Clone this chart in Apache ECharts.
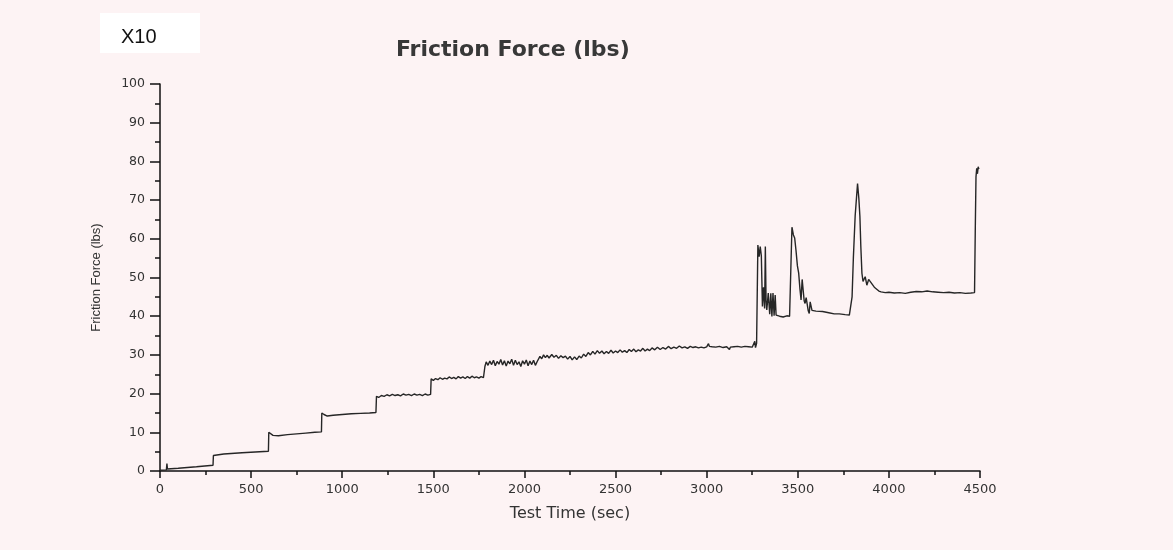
<!DOCTYPE html>
<html>
<head>
<meta charset="utf-8">
<script src="https://cdn.jsdelivr.net/npm/echarts@6/dist/echarts.min.js"></script>
<style>
html,body{margin:0;padding:0;background:#fdf3f4;}
#chart{width:1173px;height:550px;}
</style>
</head>
<body>
<div id="chart"></div>
<script>
// ---- data ----
const chartTitle = 'Friction Force (lbs)';
const xAxisName = 'Test Time (sec)';
const yAxisName = 'Friction Force (lbs)';
const scaleNote = 'X10';

const times = [
  0, 35, 38, 41, 100, 200, 291, 293, 350, 450, 595,
  597, 605, 620, 650, 700, 750, 800, 850, 886,
  888, 900, 918, 950, 1000, 1050, 1100, 1150, 1185,
  1188, 1200, 1215, 1230, 1245, 1260, 1275, 1290, 1305, 1320, 1335, 1350, 1365, 1380, 1395, 1410, 1425, 1440, 1455, 1470, 1485,
  1488, 1500, 1512, 1525, 1537, 1550, 1562, 1575, 1587, 1600, 1612, 1625, 1637, 1650, 1662, 1675, 1687, 1700, 1712, 1725, 1737, 1750, 1762, 1775, 1780,
  1783, 1790, 1800, 1810, 1820, 1830, 1840, 1850, 1860, 1870, 1880, 1890, 1900, 1910, 1920, 1930, 1940, 1950, 1960, 1970, 1980, 1990, 2000, 2010, 2020, 2030, 2040, 2050, 2060, 2070, 2078,
  2085, 2095, 2105, 2115, 2125, 2135, 2150, 2162, 2175, 2187, 2200, 2212, 2225, 2237, 2250, 2262, 2275, 2287, 2300, 2312, 2325, 2337, 2350, 2362, 2375, 2387, 2400,
  2412, 2425, 2437, 2450, 2462, 2475, 2487, 2500, 2512, 2525, 2537, 2550, 2562, 2575, 2587, 2600, 2612, 2625, 2637, 2650, 2662, 2675, 2687, 2700,
  2715, 2730, 2745, 2760, 2775, 2790, 2805, 2820, 2835, 2850, 2865, 2880, 2895, 2910, 2925, 2940, 2955, 2970, 2985, 3000, 3010, 3015, 3030, 3050, 3070, 3090, 3110, 3125, 3130, 3150, 3170, 3190, 3210, 3230, 3250, 3258, 3264, 3268, 3274, 3279,
  3281, 3288, 3294, 3300, 3306, 3312, 3318, 3322, 3326, 3330, 3338, 3346, 3352, 3358, 3364, 3370, 3376, 3381, 3400, 3420, 3440, 3455,
  3468, 3476, 3483, 3490, 3498, 3505, 3512, 3518, 3524, 3530, 3535, 3540, 3546, 3551, 3557, 3563, 3568, 3573, 3578, 3582, 3600, 3636, 3670, 3700, 3728, 3760, 3783, 3790,
  3798, 3805, 3815, 3828, 3835, 3841, 3846, 3852, 3858, 3865, 3870, 3874, 3879, 3883, 3889, 3896, 3903, 3911, 3920, 3929, 3945, 3957,
  3980, 4000, 4030, 4060, 4090, 4120, 4150, 4180, 4210, 4240, 4270, 4300, 4330, 4360, 4390, 4420, 4450, 4470,
  4474, 4478, 4482, 4486, 4490, 4494
];

const force = [
  0.2, 0.3, 1.9, 0.5, 0.7, 1.1, 1.5, 4.0, 4.4, 4.7, 5.1,
  10.0, 9.6, 9.2, 9.1, 9.4, 9.6, 9.8, 10.0, 10.1,
  15.0, 14.6, 14.2, 14.4, 14.6, 14.8, 14.9, 15.0, 15.1,
  19.3, 19.0, 19.5, 19.3, 19.7, 19.4, 19.8, 19.5, 19.7, 19.4, 19.9, 19.6, 19.8, 19.5, 19.9, 19.6, 19.8, 19.5, 19.9, 19.6, 19.8,
  23.8, 23.4, 23.9, 23.6, 24.1, 23.7, 24.0, 23.8, 24.3, 23.9, 24.2, 23.8, 24.4, 24.0, 24.3, 23.9, 24.4, 24.0, 24.5, 24.1, 24.3, 24.0, 24.4, 24.1, 24.3,
  27.0, 28.2, 27.3, 28.4, 27.5, 28.6, 27.2, 28.3, 27.6, 28.8, 27.4, 28.5, 27.1, 28.4, 27.7, 28.9, 27.3, 28.6, 27.5, 28.2, 27.0, 28.5, 27.6, 28.7, 27.2, 28.4, 27.5, 28.6, 27.3, 28.3, 27.8,
  29.6, 29.0, 30.0, 29.3, 29.9, 29.2, 30.1, 29.4, 29.9, 29.1, 29.8, 29.3, 29.7, 28.9, 29.6, 28.7, 29.5, 28.8, 29.7, 29.2, 30.2, 29.6, 30.6, 30.0, 30.9, 30.2, 31.1,
  30.4, 31.0, 30.3, 30.9, 30.4, 31.2, 30.5, 31.0, 30.6, 31.3, 30.7, 31.1, 30.6, 31.4, 30.9, 31.5, 30.8, 31.3, 31.0, 31.7, 31.0, 31.5, 31.1, 31.8,
  31.3, 32.0, 31.4, 31.9, 31.5, 32.2, 31.6, 32.0, 31.7, 32.3, 31.8, 32.1, 31.7, 32.2, 31.9, 32.1, 31.8, 32.0, 31.8, 32.1, 32.9, 32.2, 32.1, 32.0, 32.2, 31.9, 32.1, 31.4, 32.0, 32.1, 32.2, 32.0, 32.2, 32.1, 32.0, 31.6, 33.5, 31.9, 33.0, 32.5,
  58.4, 55.4, 58.0, 55.6, 42.5, 47.5, 42.0, 58.0, 44.0, 41.6, 46.0, 40.5, 45.9, 39.9, 46.0, 40.1, 45.5, 40.3, 40.0, 39.8, 40.1, 40.0,
  63.0, 61.0, 60.2, 57.1, 53.0, 51.1, 47.0, 44.2, 49.5, 49.8, 44.0, 43.3, 44.8, 44.6, 41.5, 40.7, 43.7, 43.7, 41.5, 41.6, 41.3, 41.2, 40.9, 40.6, 40.6, 40.4, 40.3, 40.5,
  45.0, 55.0, 66.0, 74.3, 70.5, 65.7, 58.0, 51.1, 49.0, 48.5, 50.2, 50.6, 48.0, 47.6, 49.5, 49.8, 48.6, 48.9, 47.5, 47.2, 46.5, 46.3,
  46.1, 46.2, 46.0, 46.1, 45.9, 46.2, 46.4, 46.3, 46.5, 46.3, 46.2, 46.1, 46.2, 46.0, 46.1, 45.9, 46.0, 46.1,
  62.0, 76.0, 78.2, 76.8, 78.6, 78.0
];

const xTicks = { min: 0, max: 4500, interval: 500 };
const yTicks = { min: 0, max: 100, interval: 10 };

const seriesData = times.map((t, i) => [t, force[i]]);

const chart = echarts.init(document.getElementById('chart'), null, { renderer: 'canvas' });
chart.setOption({
  backgroundColor: '#fdf3f4',
  animation: false,
  title: {
    text: chartTitle,
    left: 396,
    top: 39,
    padding: 0,
    textStyle: { fontFamily: 'DejaVu Sans', fontWeight: 'bold', fontSize: 22, color: '#383838' }
  },
  graphic: [
    { type: 'rect', left: 100, top: 13, shape: { width: 100, height: 40 }, style: { fill: '#ffffff' }, z: 0 },
    { type: 'text', left: 121, top: 27, style: { text: scaleNote, font: '20px "Liberation Sans"', fill: '#111111' }, z: 1 }
  ],
  grid: { left: 160, right: 193, top: 84, bottom: 79, containLabel: false, outerBoundsMode: 'none' },
  xAxis: {
    type: 'value',
    min: xTicks.min, max: xTicks.max, interval: xTicks.interval,
    name: xAxisName,
    nameLocation: 'middle',
    nameGap: 35,
    nameTextStyle: { fontFamily: 'DejaVu Sans', fontSize: 16, color: '#333333' },
    axisLine: { show: true, onZero: false, lineStyle: { color: '#111111', width: 1.5 } },
    axisTick: { show: true, inside: false, length: 7, lineStyle: { color: '#111111', width: 1.5 } },
    minorTick: { show: true, splitNumber: 2, length: 4, lineStyle: { color: '#111111', width: 1.5 } },
    axisLabel: { margin: 12, fontFamily: 'DejaVu Sans', fontSize: 13, color: '#333333', formatter: v => String(v) },
    splitLine: { show: false },
    minorSplitLine: { show: false }
  },
  yAxis: {
    type: 'value',
    min: yTicks.min, max: yTicks.max, interval: yTicks.interval,
    name: yAxisName,
    nameLocation: 'middle',
    nameRotate: 90,
    nameGap: 57,
    nameTextStyle: { fontFamily: 'Liberation Sans', fontSize: 13, color: '#333333' },
    axisLine: { show: true, onZero: false, lineStyle: { color: '#111111', width: 1.5 } },
    axisTick: { show: true, inside: false, length: 10, lineStyle: { color: '#111111', width: 1.5 } },
    minorTick: { show: true, splitNumber: 2, length: 5, lineStyle: { color: '#111111', width: 1.5 } },
    axisLabel: { margin: 15, fontFamily: 'DejaVu Sans', fontSize: 12.5, color: '#333333', formatter: v => String(v) },
    splitLine: { show: false },
    minorSplitLine: { show: false }
  },
  series: [{
    type: 'line',
    data: seriesData,
    showSymbol: false,
    symbol: 'none',
    smooth: false,
    lineStyle: { color: '#262626', width: 1.4 },
    clip: true
  }]
});
</script>
</body>
</html>
